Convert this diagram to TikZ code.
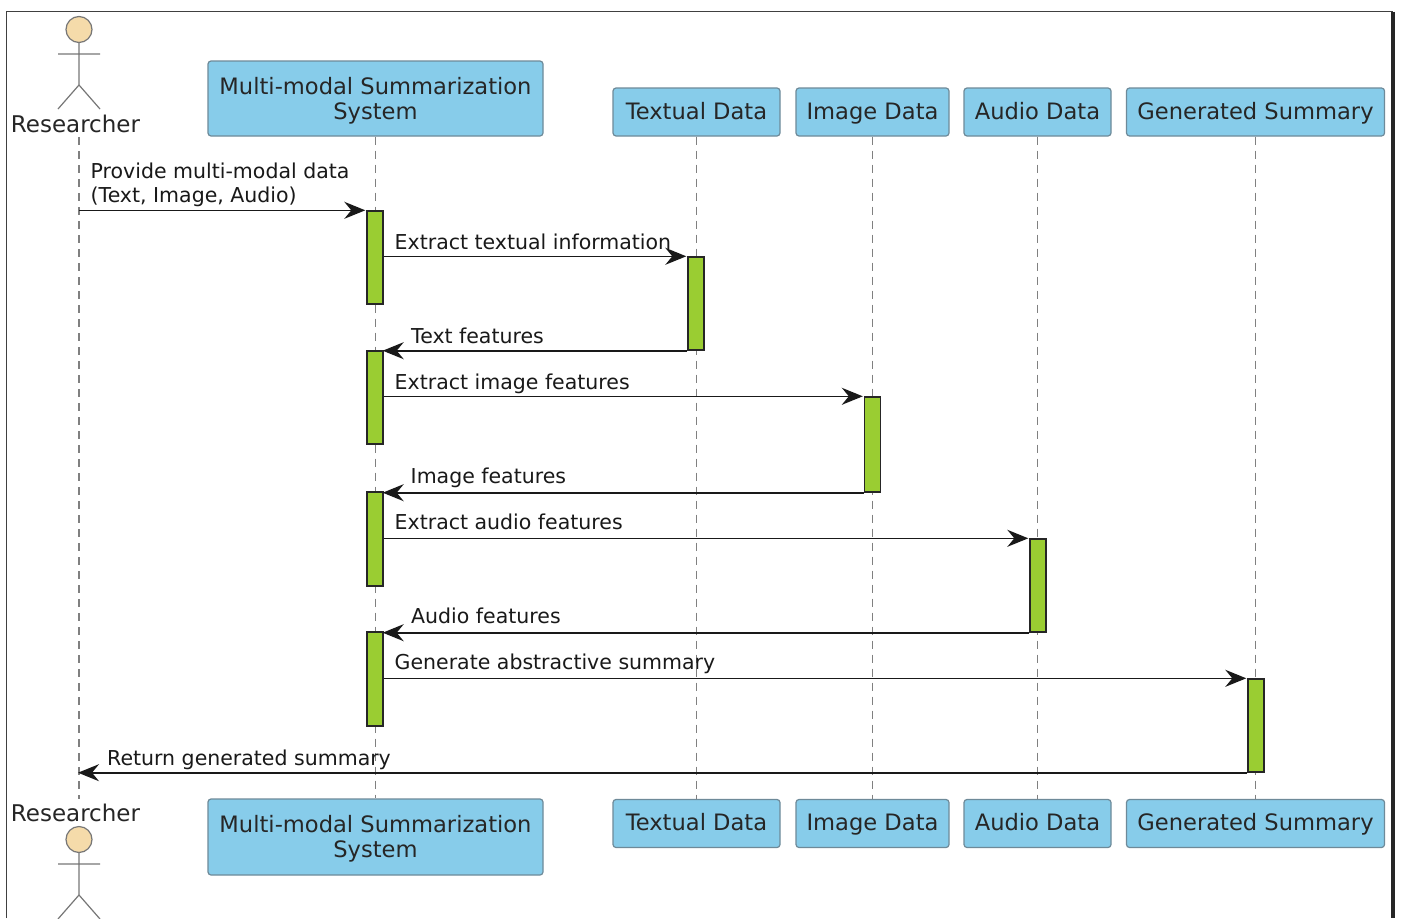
\documentclass[tikz,border=0pt]{standalone}
\usepackage{fontspec}
\setmainfont{DejaVu Sans}
\usetikzlibrary{arrows.meta}
\definecolor{boxblue}{HTML}{87CCEA}
\definecolor{boxline}{HTML}{6E8A99}
\definecolor{barfill}{HTML}{9ACD32}
\definecolor{headfill}{HTML}{F5DBAA}
\definecolor{actline}{HTML}{777777}
\tikzset{
  x=1pt,y=-1pt,
  part/.style={draw=boxline,line width=1.2pt,fill=boxblue,rounded corners=3pt,inner sep=0pt,align=center,font=\fontsize{22.6}{25}\selectfont,text=black!85},
  one/.style={part,text height=18pt,text depth=3.2pt,minimum height=48pt},
  bar/.style={draw=black!85,line width=1.4pt,fill=barfill,minimum width=16pt,inner sep=0pt},
  life/.style={draw=black!50,line width=1.2pt,dash pattern=on 8pt off 6pt},
  msgline/.style={draw=black!90,line width=1.6pt},
  msg/.style={msgline,-{Stealth[length=21pt,width=17pt,inset=7pt]},shorten >=1pt},
  msgl/.style={msgline,-{Stealth[length=21pt,width=17pt,inset=7pt]},shorten >=-1pt},
  lab/.style={inner sep=0pt,anchor=base west,align=left,font=\fontsize{20.5}{24}\selectfont,text=black!90},
  actorlab/.style={inner sep=0pt,font=\fontsize{23}{25}\selectfont,text=black!85},
  actorline/.style={draw=actline,line width=1.2pt},
  head/.style={circle,draw=actline,line width=1.2pt,fill=headfill,minimum size=26pt,inner sep=0pt},
  frameline/.style={draw=black!75,line width=1.2pt}
}
\begin{document}
\begin{tikzpicture}
\useasboundingbox (0,0) rectangle (1402,918);
\fill[white] (0,0) rectangle (1402,918);
% frame
\coordinate (ftl) at (6.5,11.5);
\coordinate (ftr) at (1393,11.5);
\coordinate (fbl) at (6.5,918);
\coordinate (fbr) at (1393,918);
\draw[frameline] (fbl) -- (ftl) -- (ftr);
\draw[draw=black!85,line width=4pt] (ftr) -- (fbr);
% participants
\node[part,minimum width=335pt,minimum height=75pt] (ms1) at (375.5,98.5) {\rule{0pt}{21.5pt}Multi-modal Summarization\\System};
\node[one,minimum width=167pt] (td1) at (696.5,112) {Textual Data};
\node[one,minimum width=153pt] (id1) at (872.5,112) {Image Data};
\node[one,minimum width=147pt] (ad1) at (1037.5,112) {Audio Data};
\node[one,minimum width=258pt] (gs1) at (1255.5,112) {Generated Summary};
\node[part,minimum width=335pt,minimum height=76pt] (ms2) at (375.5,837) {\rule{0pt}{21.5pt}Multi-modal Summarization\\System};
\node[one,minimum width=167pt] (td2) at (696.5,823.5) {Textual Data};
\node[one,minimum width=153pt] (id2) at (872.5,823.5) {Image Data};
\node[one,minimum width=147pt] (ad2) at (1037.5,823.5) {Audio Data};
\node[one,minimum width=258pt] (gs2) at (1255.5,823.5) {Generated Summary};
% actors
\node[actorlab] (rl1) at (75.5,124) {Researcher};
\node[actorlab] (rl2) at (75.5,813) {Researcher};
\node[head] (h1) at (79,29.5) {};
\node[head] (h2) at (79,839.5) {};
\coordinate (a1l) at (58,54); \coordinate (a1r) at (100,54);
\coordinate (w1) at (79,85); \coordinate (f1l) at (58,109); \coordinate (f1r) at (100,109);
\coordinate (a2l) at (58,864); \coordinate (a2r) at (100,864);
\coordinate (w2) at (79,895); \coordinate (f2l) at (58,919); \coordinate (f2r) at (100,919);
\draw[actorline] (h1.south) -- (w1) (a1l) -- (a1r) (f1l) -- (w1) -- (f1r);
\draw[actorline] (h2.south) -- (w2) (a2l) -- (a2r) (f2l) -- (w2) -- (f2r);
% lifelines
\coordinate (lr1) at (79,137);
\coordinate (lr2) at (79,799);
\draw[life] (lr1) -- (lr2);
\draw[life] (ms1.south) -- (ms2.north);
\draw[life] (td1.south) -- (td2.north);
\draw[life] (id1.south) -- (id2.north);
\draw[life] (ad1.south) -- (ad2.north);
\draw[life] (gs1.south) -- (gs2.north);
% activation bars
\node[bar,minimum height=93pt] (b1) at (375,257.5) {};
\node[bar,minimum height=93pt] (b2) at (696,303.5) {};
\node[bar,minimum height=93pt] (b3) at (375,397.5) {};
\node[bar,minimum height=95pt] (b4) at (872.5,444.5) {};
\node[bar,minimum height=94pt] (b5) at (375,539) {};
\node[bar,minimum height=93pt] (b6) at (1038,585.5) {};
\node[bar,minimum height=94pt] (b7) at (375,679) {};
\node[bar,minimum height=93pt] (b8) at (1256,725.5) {};
% messages
\draw[msg] (lr1 |- b1.north) -- (b1.north west);
\draw[msg] (b1.east |- b2.north) -- (b2.north west);
\draw[msgl] (b2.south west) -- (b3.east |- b2.south);
\draw[msg] (b3.east |- b4.north) -- (b4.north west);
\draw[msgl] (b4.south west) -- (b5.east |- b4.south);
\draw[msg] (b5.east |- b6.north) -- (b6.north west);
\draw[msgl] (b6.south west) -- (b7.east |- b6.south);
\draw[msg] (b7.east |- b8.north) -- (b8.north west);
\draw[msgl] (b8.south west) -- (lr1 |- b8.south);
% labels
\node[lab] (t1) at (90.5,202) {Provide multi-modal data\\(Text, Image, Audio)};
\node[lab] (t2) at (394.5,249.5) {Extract textual information};
\node[lab] (t3) at (411,343.5) {Text features};
\node[lab] (t4) at (394.5,389.5) {Extract image features};
\node[lab] (t5) at (410.5,483.5) {Image features};
\node[lab] (t6) at (394.5,529.5) {Extract audio features};
\node[lab] (t7) at (411,623.5) {Audio features};
\node[lab] (t8) at (394.5,669.5) {Generate abstractive summary};
\node[lab] (t9) at (107,765.5) {Return generated summary};
\end{tikzpicture}
\end{document}
